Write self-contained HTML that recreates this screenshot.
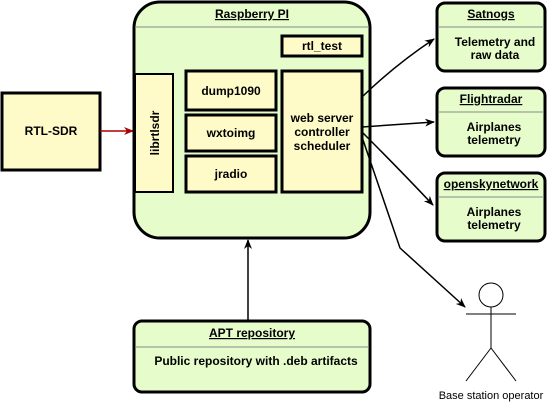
<!DOCTYPE html>
<html><head><style>
body{margin:0;background:#fff;}
svg text{font-family:"Liberation Sans",sans-serif;font-weight:bold;font-size:12px;}
</style></head><body>
<svg width="549" height="403" viewBox="0 0 549 403" xmlns="http://www.w3.org/2000/svg">
<defs>
<marker id="a" markerWidth="10" markerHeight="8" refX="9" refY="4" orient="auto" markerUnits="userSpaceOnUse"><path d="M0,0 L10,4 L0,8 L3,4z" fill="#000"/></marker>
<marker id="r" markerWidth="10" markerHeight="8" refX="9" refY="4" orient="auto" markerUnits="userSpaceOnUse"><path d="M0,0 L10,4 L0,8 L3,4z" fill="#a00"/></marker>
</defs>
<!-- RTL-SDR -->
<rect x="2" y="93" width="98" height="77" fill="#fffbc8" stroke="#000" stroke-width="3"/>
<text x="51" y="135" text-anchor="middle">RTL-SDR</text>
<line x1="100" y1="131" x2="133" y2="131" stroke="#a00" stroke-width="1.5" marker-end="url(#r)"/>
<!-- Raspberry -->
<rect x="134" y="2" width="236" height="236" rx="26" fill="#e6fccb" stroke="#000" stroke-width="3"/>
<line x1="135" y1="27" x2="369" y2="27" stroke="#888"/>
<text x="252" y="18" text-anchor="middle" text-decoration="underline">Raspberry PI</text>
<rect x="282" y="36" width="80" height="20" fill="#fffbc8" stroke="#000" stroke-width="3"/>
<text x="322" y="50" text-anchor="middle">rtl_test</text>
<rect x="135" y="74" width="38" height="118" fill="#fffbc8" stroke="#000" stroke-width="2"/>
<text transform="translate(159,133) rotate(-90)" text-anchor="middle">librtlsdr</text>
<rect x="186" y="71" width="90" height="39" fill="#fffbc8" stroke="#000" stroke-width="3"/>
<text x="231" y="95" text-anchor="middle">dump1090</text>
<rect x="186" y="115" width="90" height="36" fill="#fffbc8" stroke="#000" stroke-width="3"/>
<text x="231" y="137" text-anchor="middle">wxtoimg</text>
<rect x="186" y="156" width="90" height="36" fill="#fffbc8" stroke="#000" stroke-width="3"/>
<text x="231" y="178" text-anchor="middle">jradio</text>
<rect x="282" y="71" width="80" height="121" fill="#fffbc8" stroke="#000" stroke-width="3"/>
<text x="322" y="122" text-anchor="middle">web server</text>
<text x="322" y="136" text-anchor="middle">controller</text>
<text x="322" y="150" text-anchor="middle">scheduler</text>
<!-- right boxes -->
<g>
<rect x="437" y="3" width="108" height="68" rx="8" fill="#e6fccb" stroke="#000" stroke-width="3"/>
<line x1="438" y1="27" x2="544" y2="27" stroke="#888"/>
<text x="491" y="18" text-anchor="middle" text-decoration="underline">Satnogs</text>
<text x="495" y="46" text-anchor="middle">Telemetry and</text>
<text x="495" y="59" text-anchor="middle">raw data</text>
<rect x="437" y="88" width="108" height="68" rx="8" fill="#e6fccb" stroke="#000" stroke-width="3"/>
<line x1="438" y1="112" x2="544" y2="112" stroke="#888"/>
<text x="491" y="103" text-anchor="middle" text-decoration="underline">Flightradar</text>
<text x="494" y="131" text-anchor="middle">Airplanes</text>
<text x="494" y="144" text-anchor="middle">telemetry</text>
<rect x="437" y="173" width="108" height="68" rx="8" fill="#e6fccb" stroke="#000" stroke-width="3"/>
<line x1="438" y1="197" x2="544" y2="197" stroke="#888"/>
<text x="491" y="188" text-anchor="middle" text-decoration="underline">openskynetwork</text>
<text x="494" y="216" text-anchor="middle">Airplanes</text>
<text x="494" y="229" text-anchor="middle">telemetry</text>
</g>
<!-- APT -->
<rect x="134" y="321" width="236" height="71" rx="8" fill="#e6fccb" stroke="#000" stroke-width="3"/>
<line x1="135" y1="347" x2="369" y2="347" stroke="#888"/>
<text x="252" y="337" text-anchor="middle" text-decoration="underline">APT repository</text>
<text x="256" y="365" text-anchor="middle">Public repository with .deb artifacts</text>
<line x1="248" y1="320" x2="248" y2="240" stroke="#000" stroke-width="1.5" marker-end="url(#a)"/>
<!-- connectors -->
<g fill="none" stroke="#000" stroke-width="1.5">
<path d="M362,97 Q395,65 434,39" marker-end="url(#a)"/>
<path d="M362,127 L434,122" marker-end="url(#a)"/>
<path d="M362,132 Q400,170 433,205" marker-end="url(#a)"/>
<path d="M362,137 L400,248 L465,307" marker-end="url(#a)"/>
</g>
<!-- actor -->
<g fill="none" stroke="#000" stroke-width="1">
<circle cx="491" cy="295" r="12"/>
<line x1="466" y1="314" x2="516" y2="314"/>
<line x1="491" y1="307" x2="491" y2="348"/>
<line x1="491" y1="348" x2="466" y2="381"/>
<line x1="491" y1="348" x2="516" y2="381"/>
</g>
<text x="491" y="399" text-anchor="middle" style="font-weight:normal;font-size:11px">Base station operator</text>
</svg>
</body></html>
